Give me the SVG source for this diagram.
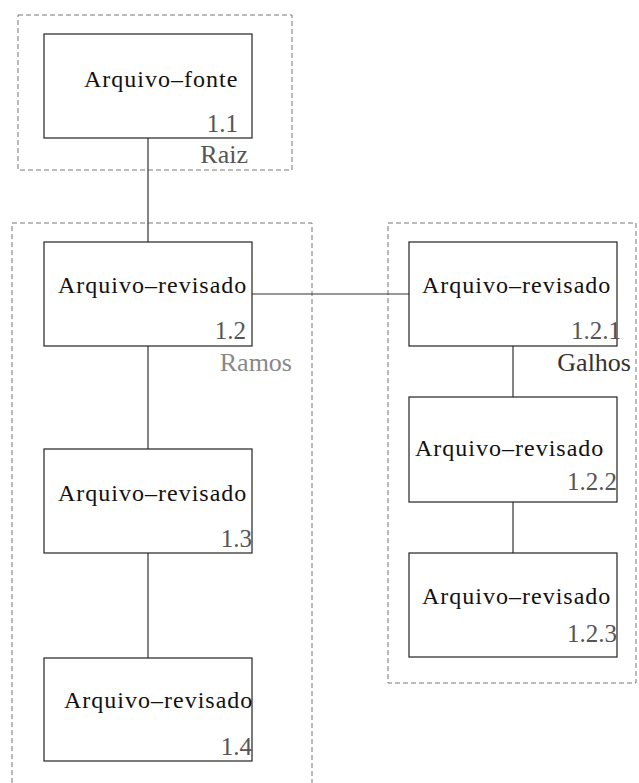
<svg xmlns="http://www.w3.org/2000/svg" width="639" height="783" viewBox="0 0 639 783">
<style>
  .grp { fill: none; stroke: #777; stroke-width: 1; stroke-dasharray: 5 3; }
  .box { fill: #fff; stroke: #222; stroke-width: 1.2; }
  .conn { stroke: #333; stroke-width: 1.2; fill: none; }
  .t { font-family: "Liberation Serif", "Times New Roman", serif; font-size: 24px; letter-spacing: 1px; fill: #111; }
  .n { font-family: "Liberation Serif", "Times New Roman", serif; font-size: 25px; fill: #555; text-anchor: end; }
  .lbl { font-family: "Liberation Serif", "Times New Roman", serif; font-size: 26px; text-anchor: end; }
</style>
<rect width="639" height="783" fill="#fff"/>
<g id="groups">
  <g id="grp-raiz">
    <rect class="grp" x="18" y="15" width="274" height="155"/>
    <text class="lbl" x="248" y="163" fill="#555">Raiz</text>
  </g>
  <g id="grp-ramos">
    <rect class="grp" x="12" y="223" width="300" height="580"/>
    <text class="lbl" x="292" y="371" fill="#888">Ramos</text>
  </g>
  <g id="grp-galhos">
    <rect class="grp" x="388" y="223" width="248" height="460"/>
  </g>
</g>
<g id="connectors">
  <line class="conn" x1="148" y1="138" x2="148" y2="242"/>
  <line class="conn" x1="148" y1="346" x2="148" y2="449"/>
  <line class="conn" x1="148" y1="553" x2="148" y2="658"/>
  <line class="conn" x1="252" y1="294" x2="409" y2="294"/>
  <line class="conn" x1="513" y1="346" x2="513" y2="397"/>
  <line class="conn" x1="513" y1="502" x2="513" y2="553"/>
</g>
<g id="n11">
  <rect class="box" x="44" y="34" width="208" height="104"/>
  <text class="t" x="84" y="87">Arquivo–fonte</text>
  <text class="n" x="238" y="132">1.1</text>
</g>
<g id="n12">
  <rect class="box" x="44" y="242" width="208" height="104"/>
  <text class="t" x="58" y="293">Arquivo–revisado</text>
  <text class="n" x="246" y="339">1.2</text>
</g>
<g id="n13">
  <rect class="box" x="44" y="449" width="208" height="104"/>
  <text class="t" x="58" y="501">Arquivo–revisado</text>
  <text class="n" x="252" y="547">1.3</text>
</g>
<g id="n14">
  <rect class="box" x="44" y="658" width="208" height="103"/>
  <text class="t" x="64" y="708">Arquivo–revisado</text>
  <text class="n" x="252" y="755">1.4</text>
</g>
<g id="n121">
  <rect class="box" x="409" y="242" width="208" height="104"/>
  <text class="t" x="422" y="293">Arquivo–revisado</text>
  <text class="n" x="621" y="339">1.2.1</text>
</g>
<text class="lbl" x="631" y="371" fill="#333">Galhos</text>
<g id="n122">
  <rect class="box" x="409" y="397" width="208" height="105"/>
  <text class="t" x="415" y="456">Arquivo–revisado</text>
  <text class="n" x="617" y="490">1.2.2</text>
</g>
<g id="n123">
  <rect class="box" x="409" y="553" width="208" height="104"/>
  <text class="t" x="422" y="604">Arquivo–revisado</text>
  <text class="n" x="617" y="642">1.2.3</text>
</g>
</svg>
